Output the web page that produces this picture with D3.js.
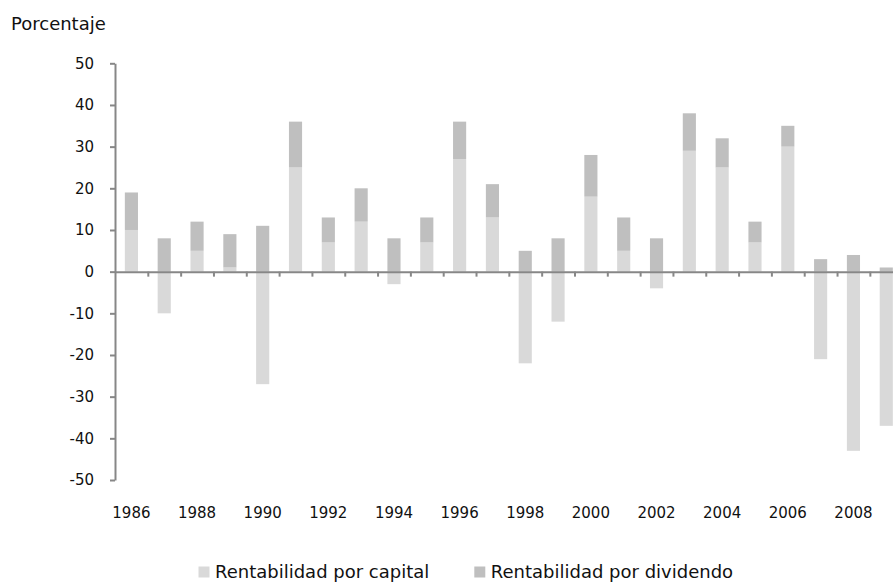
<!DOCTYPE html>
<html>
<head>
<meta charset="utf-8">
<script src="https://cdn.jsdelivr.net/npm/d3@7"></script>
<style>
  body { margin: 0; background: #fff; }
  svg { font-family: "DejaVu Sans", Verdana, sans-serif; display: block; }
  .axis path, .axis line { stroke: #878787; stroke-width: 2; }
</style>
</head>
<body>
<svg id="chart" width="893" height="583"></svg>
<script>
const years = d3.range(1986, 2010);
const capital   = [10, -10, 5, 1, -27, 25, 7, 12, -3, 7, 27, 13, -22, -12, 18, 5, -4, 29, 25, 7, 30, -21, -43, -37];
const dividendo = [ 9,   8, 7, 8,  11, 11, 6,  8,  8, 6,  9,  8,   5,   8, 10, 8,  8,  9,  7, 5,  5,   3,   4,   1];
const yTicks = d3.range(-50, 51, 10);
const labelYears = years.filter(y => y % 2 === 0);
const seriesNames = ["Rentabilidad por capital", "Rentabilidad por dividendo"];
const colors = ["#d9d9d9", "#bfbfbf"];

const svg = d3.select("#chart");
const plotLeft = 115, step = 32.82;
const plotTop = 63.3, plotBottom = 480;

const x = d3.scaleBand().domain(years)
  .range([plotLeft, plotLeft + step * years.length])
  .paddingInner(0.6).paddingOuter(0.3);
const y = d3.scaleLinear().domain([-50, 50]).range([plotBottom, plotTop]);

// filas para el stack (positivos arriba, negativos abajo)
const rows = years.map((yr, i) => ({ year: yr, cap: capital[i], div: dividendo[i] }));
const stacked = d3.stack().keys(["cap", "div"]).offset(d3.stackOffsetDiverging)(rows);

svg.append("g").selectAll("g")
  .data(stacked)
  .join("g")
    .attr("fill", (d, i) => colors[i])
  .selectAll("rect")
  .data(d => d)
  .join("rect")
    .attr("x", d => x(d.data.year))
    .attr("width", x.bandwidth())
    .attr("y", d => y(Math.max(d[0], d[1])))
    .attr("height", d => Math.abs(y(d[0]) - y(d[1])));

// eje Y (guion normal como en el original)
const yAxis = svg.append("g").attr("class", "axis")
  .attr("transform", `translate(${plotLeft},0)`)
  .call(d3.axisLeft(y).tickValues(yTicks).tickFormat(d => String(d))
    .tickSize(5).tickPadding(16).tickSizeOuter(0));
yAxis.selectAll("text").attr("font-size", 15).attr("fill", "#111");
yAxis.attr("font-family", null).attr("font-size", null);

// eje X en el cero, marcas entre categorías
const xb = d3.scaleLinear().domain([0, years.length]).range([plotLeft, plotLeft + step * years.length]);
svg.append("g").attr("class", "axis")
  .attr("transform", `translate(0,${y(0)})`)
  .call(d3.axisBottom(xb).tickValues(d3.range(1, years.length)).tickSize(5).tickFormat("").tickSizeOuter(0));

// etiquetas de años abajo
svg.append("g").selectAll("text")
  .data(labelYears)
  .join("text")
    .attr("x", d => x(d) + x.bandwidth() / 2)
    .attr("y", 517.5)
    .attr("text-anchor", "middle")
    .attr("font-size", 15)
    .attr("fill", "#111")
    .text(d => d);

svg.append("text")
  .attr("x", 11).attr("y", 30)
  .attr("font-size", 18).attr("fill", "#111")
  .text("Porcentaje");

// leyenda
const legX = [198.5, 474.3];
const leg = svg.append("g").selectAll("g")
  .data(seriesNames)
  .join("g")
    .attr("transform", (d, i) => `translate(${legX[i]},566.5)`);
leg.append("rect").attr("width", 11).attr("height", 11).attr("fill", (d, i) => colors[i]);
leg.append("text").attr("x", 16.5).attr("y", 11.5)
  .attr("font-size", 18).attr("fill", "#111")
  .text(d => d);
</script>
</body>
</html>
